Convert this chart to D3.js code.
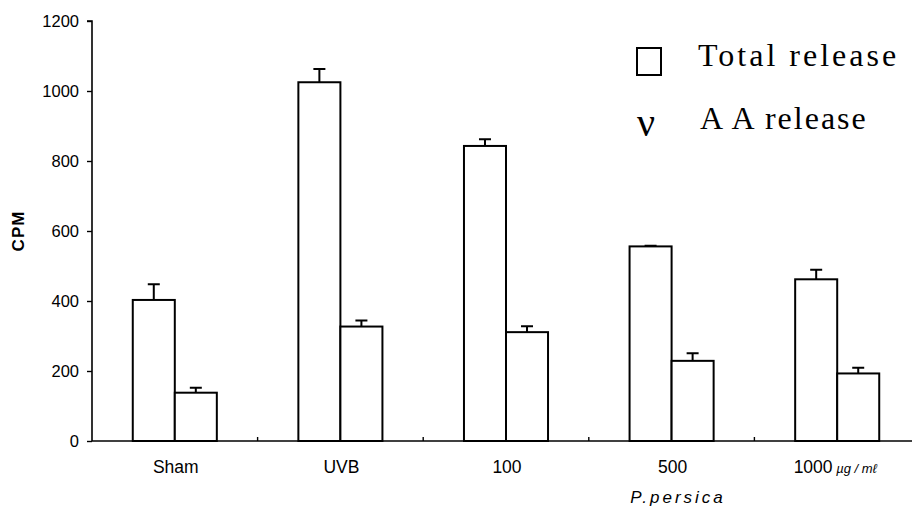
<!DOCTYPE html>
<html><head><meta charset="utf-8">
<script src="https://cdn.jsdelivr.net/npm/d3@7"></script>
<style>body{margin:0;background:#fff}svg{display:block}</style>
</head><body>
<svg id="chart" width="912" height="512"></svg>
<script>
const categories = ["Sham", "UVB", "100", "500", "1000"];
const seriesNames = ["Total release", "AA release"];
const totalValues = [403, 1025, 843, 556, 462];
const totalErrors = [45, 38, 19, 2, 27];
const aaValues = [138, 327, 311, 229, 193];
const aaErrors = [14, 17, 17, 22, 16];
const yTicks = [0, 200, 400, 600, 800, 1000, 1200];

const svg = d3.select("#chart");
const x = d3.scaleBand().domain(categories).range([92, 920]).paddingInner(0).paddingOuter(0);
const x1 = d3.scaleBand().domain(seriesNames).range([0, x.bandwidth()]).paddingInner(0).paddingOuter(0.97);
const y = d3.scaleLinear().domain([0, 1200]).range([441, 21]);

const rows = categories.map((c, i) => ({c, vals: [
  {s: seriesNames[0], v: totalValues[i], e: totalErrors[i]},
  {s: seriesNames[1], v: aaValues[i], e: aaErrors[i]}
]}));

// Y axis
const yAxis = svg.append("g").attr("transform", "translate(92,0)")
  .call(d3.axisLeft(y).tickValues(yTicks).tickSize(5).tickPadding(8).tickFormat(d3.format("d")));
yAxis.select(".domain").attr("stroke-width", 1.6).attr("d", `M-5,${y(1200)}H0V${y(0)}`);
yAxis.selectAll(".tick line").attr("stroke-width", 1.4);
yAxis.selectAll(".tick text").attr("font-family", "Liberation Sans, Arial, sans-serif").attr("font-size", 16.5)
  .attr("fill", "#000");

// X axis
svg.append("line").attr("x1", 92).attr("x2", 912).attr("y1", y(0)).attr("y2", y(0)).attr("stroke", "#000").attr("stroke-width", 1.6);
svg.selectAll(".xtick").data(categories.slice(1)).enter().append("line")
  .attr("x1", d => x(d)).attr("x2", d => x(d)).attr("y1", y(0)).attr("y2", y(0) - 4)
  .attr("stroke", "#000").attr("stroke-width", 1.4);

// Bars
const groups = svg.selectAll(".grp").data(rows).enter().append("g").attr("transform", d => `translate(${x(d.c)},0)`);
groups.selectAll("rect").data(d => d.vals).enter().append("rect")
  .attr("x", d => x1(d.s)).attr("y", d => y(d.v)).attr("width", x1.bandwidth()).attr("height", d => y(0) - y(d.v))
  .attr("fill", "#fff").attr("stroke", "#000").attr("stroke-width", 2);
groups.selectAll(".err").data(d => d.vals).enter().append("path")
  .attr("d", d => {
    const cx = x1(d.s) + x1.bandwidth() / 2;
    return `M${cx},${y(d.v)}V${y(d.v + d.e)}M${cx - 6},${y(d.v + d.e)}H${cx + 6}`;
  })
  .attr("fill", "none").attr("stroke", "#000").attr("stroke-width", 2);

// X labels
const xl = svg.selectAll(".xl").data(categories).enter().append("text")
  .attr("x", d => x(d) + x.bandwidth() / 2 + (d === "1000" ? -2 : 1)).attr("y", 473)
  .attr("text-anchor", "middle").attr("font-family", "Liberation Sans, Arial, sans-serif").attr("font-size", 17.5).attr("fill", "#000");
xl.append("tspan").text(d => d);
xl.filter(d => d === "1000").append("tspan").attr("font-size", 13).attr("font-style", "italic").text(" µg / mℓ");

svg.append("text").attr("x", 678).attr("y", 503).attr("text-anchor", "middle")
  .attr("font-family", "Liberation Sans, Arial, sans-serif").attr("font-size", 17).attr("font-style", "italic")
  .attr("letter-spacing", 3).attr("fill", "#000").text("P.persica");

svg.append("text").attr("transform", "translate(24,231) rotate(-90)").attr("text-anchor", "middle")
  .attr("font-family", "Liberation Sans, Arial, sans-serif").attr("font-size", 17).attr("font-weight", "bold")
  .attr("letter-spacing", 1).attr("fill", "#000").text("CPM");

// Legend
svg.append("rect").attr("x", 637).attr("y", 48).attr("width", 24).attr("height", 27)
  .attr("fill", "#fff").attr("stroke", "#000").attr("stroke-width", 2);
svg.append("text").attr("x", 698).attr("y", 66).attr("font-family", "Liberation Serif, Times New Roman, serif")
  .attr("font-size", 32).attr("letter-spacing", 3).attr("fill", "#000").text(seriesNames[0]);
svg.append("text").attr("x", 637).attr("y", 136).attr("font-family", "Liberation Serif, Times New Roman, serif")
  .attr("font-size", 40).attr("fill", "#000").text("ν");
svg.append("text").attr("x", 700).attr("y", 129).attr("font-family", "Liberation Serif, Times New Roman, serif")
  .attr("font-size", 32).attr("letter-spacing", 2).attr("fill", "#000").text("A A release");
</script>
</body></html>
